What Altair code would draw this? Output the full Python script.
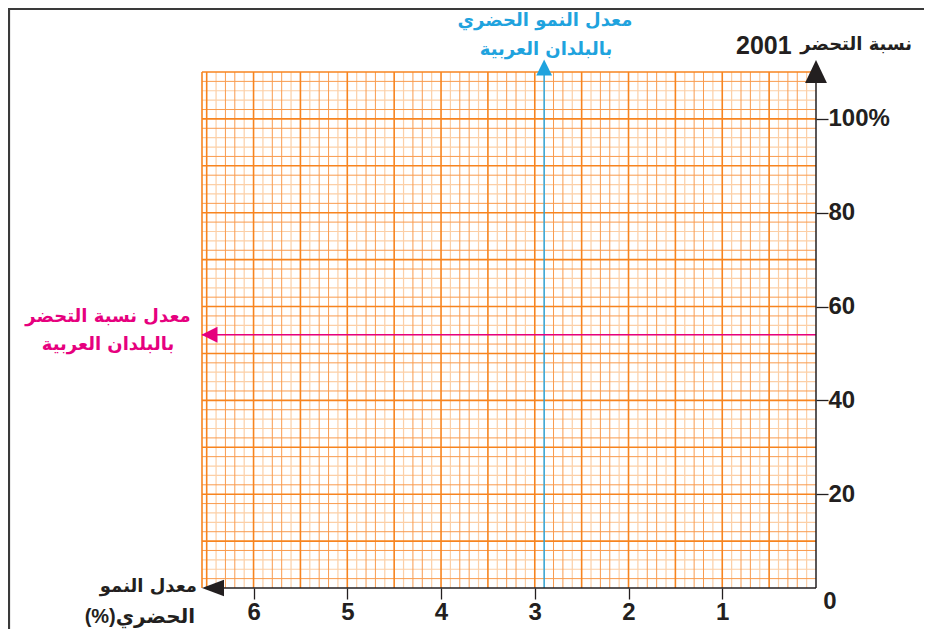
import altair as alt
import pandas as pd

# ---- data -------------------------------------------------------------
X_TICKS = [1, 2, 3, 4, 5, 6]          # urban growth rate (%) - axis reversed
Y_TICKS = [20, 40, 60, 80, 100]       # urbanisation rate 2001 (%)
X_DOMAIN = [0, 6.55]
Y_DOMAIN = [0, 110]
ARAB_GROWTH_AVG = [2.9]               # average urban growth, Arab countries
ARAB_URBAN_AVG = [54]                 # average urbanisation, Arab countries

TXT_Y_TITLE = ["نسبة التحضر", "2001"]
TXT_BLUE = ["معدل النمو الحضري", "بالبلدان العربية"]
TXT_PINK = ["معدل نسبة التحضر", "بالبلدان العربية"]
TXT_X_TITLE = ["معدل النمو", "(%)الحضري"]
TXT_ZERO = ["0"]

# ---- styling ----------------------------------------------------------
W, H = 614, 516
BLACK = "#231F20"
BLUE = "#1FA3DE"
PINK = "#E6007E"
OR_MAJOR = "#F7841F"
OR_MINOR = "#F99B4E"
OR_PALE = "#FCCFA6"
AR_FONT = "DejaVu Sans"
NUM_FONT = "Liberation Sans"

xs = alt.Scale(domain=X_DOMAIN, reverse=True, nice=False, zero=False)
ys = alt.Scale(domain=Y_DOMAIN, nice=False, zero=False)

AX = alt.Axis(values=X_TICKS, orient="bottom", domain=False, grid=False,
              tickSize=11, tickColor=BLACK, tickWidth=1.3, format="d",
              labelFont=NUM_FONT, labelFontSize=24, labelFontWeight="bold",
              labelColor=BLACK, labelPadding=1, title=None)
AY = alt.Axis(values=Y_TICKS, orient="right", domain=False, grid=False,
              tickSize=12, tickColor=BLACK, tickWidth=1.3,
              labelExpr="datum.value == 100 ? '100%' : datum.label",
              labelFont=NUM_FONT, labelFontSize=24, labelFontWeight="bold",
              labelColor=BLACK, labelPadding=0, labelAlign="left",
              labelBaseline="middle", title=None)


def X(field="x"):
    return alt.X(f"{field}:Q", scale=xs, axis=AX, title=None)


def Y(field="y"):
    return alt.Y(f"{field}:Q", scale=ys, axis=AY, title=None)


# graph-paper grid (1 mm / 5 mm)
kx = [k for k in range(1, 66) if k % 5]
vminor = pd.DataFrame({"x": [k / 10 for k in kx], "pale": [k % 5 in (1, 4) for k in kx]})
vmajor = pd.DataFrame({"x": [k / 10 for k in range(5, 66, 5)] + [X_DOMAIN[1]]})
ky = [k for k in range(2, 111, 2) if k % 10]
hminor = pd.DataFrame({"y": ky, "pale": [k % 10 in (4, 6) for k in ky]})
hmajor = pd.DataFrame({"y": list(range(10, 111, 10))})


def vr(df, color, width):
    return alt.Chart(df).mark_rule(color=color, strokeWidth=width).encode(x=X())


def hr(df, color, width):
    return alt.Chart(df).mark_rule(color=color, strokeWidth=width).encode(y=Y())


axes = alt.Chart(pd.DataFrame({"x": [0], "y": [0]})).mark_point(opacity=0).encode(
    x=X(), y=Y())

grid = [
    vr(vminor[vminor.pale], OR_PALE, 1.2),
    hr(hminor[hminor.pale], OR_PALE, 1.2),
    vr(vminor[~vminor.pale], OR_MINOR, 1),
    hr(hminor[~hminor.pale], OR_MINOR, 1),
    vr(vmajor, OR_MAJOR, 1.6),
    hr(hmajor, OR_MAJOR, 1.6),
]

one = pd.DataFrame({"a": [0]})

blue_line = alt.Chart(pd.DataFrame({"x": ARAB_GROWTH_AVG})).mark_rule(
    color=BLUE, strokeWidth=1.4).encode(x=X())
blue_arrow = alt.Chart(pd.DataFrame({"x": ARAB_GROWTH_AVG})).mark_point(
    shape="M-1,1L0,-1L1,1Z", filled=True, size=250, color=BLUE, opacity=1).encode(
    x=X(), y=alt.value(-4.5))

pink_line = alt.Chart(pd.DataFrame({"y": ARAB_URBAN_AVG})).mark_rule(
    color=PINK, strokeWidth=1.6).encode(y=Y())
pink_arrow = alt.Chart(pd.DataFrame({"y": ARAB_URBAN_AVG})).mark_point(
    shape="M1,-1L-1,0L1,1Z", filled=True, size=256, color=PINK, opacity=1).encode(
    x=alt.value(7.5), y=Y())

y_axis_line = alt.Chart(one).mark_rule(color=BLACK, strokeWidth=1.5).encode(
    x=alt.value(W), y=alt.value(H), y2=alt.value(11))
x_axis_line = alt.Chart(one).mark_rule(color=BLACK, strokeWidth=1.5).encode(
    x=alt.value(20), x2=alt.value(W), y=alt.value(H))
y_arrow = alt.Chart(one).mark_point(
    shape="M-0.95,1L0,-1L0.95,1Z", filled=True, size=530, color=BLACK, opacity=1).encode(
    x=alt.value(W), y=alt.value(-0.5))
x_arrow = alt.Chart(one).mark_point(
    shape="M1,-0.75L-1,0L1,0.75Z", filled=True, size=484, color=BLACK, opacity=1).encode(
    x=alt.value(11), y=alt.value(H))

frame_left = alt.Chart(one).mark_rule(color="#3a3a3a", strokeWidth=2.2).encode(
    x=alt.value(-193), y=alt.value(-64), y2=alt.value(H + 41))
frame_top = alt.Chart(one).mark_rule(color="#3a3a3a", strokeWidth=2.2).encode(
    x=alt.value(-194), x2=alt.value(W + 108), y=alt.value(-63))


def txt(s, x, y, color, size, font, align="center"):
    return alt.Chart(pd.DataFrame({"t": [s]})).mark_text(
        color=color, fontSize=size, font=font, fontWeight="bold", align=align,
        baseline="middle").encode(text="t:N", x=alt.value(x), y=alt.value(y))


texts = [
    txt(TXT_Y_TITLE[0], 710, -27, BLACK, 18, AR_FONT, "right"),
    txt(TXT_Y_TITLE[1], 534, -26, BLACK, 25, NUM_FONT, "left"),
    txt(TXT_BLUE[0], 343, -51, BLUE, 18, AR_FONT),
    txt(TXT_BLUE[1], 344, -22, BLUE, 18, AR_FONT),
    txt(TXT_PINK[0], -94, 245, PINK, 18, AR_FONT),
    txt(TXT_PINK[1], -94, 273, PINK, 18, AR_FONT),
    txt(TXT_X_TITLE[0], -5, 515, BLACK, 18, AR_FONT, "right"),
    txt(TXT_X_TITLE[1], -7, 545, BLACK, 20, NUM_FONT + ", " + AR_FONT, "right"),
    txt(TXT_ZERO[0], 628, 530, BLACK, 24, NUM_FONT),
]

chart = alt.layer(
    axes, *grid, blue_line, pink_line, y_axis_line, x_axis_line,
    blue_arrow, pink_arrow, y_arrow, x_arrow, frame_left, frame_top, *texts
).properties(
    width=W, height=H,
    autosize=alt.AutoSizeParams(type="none"),
    padding={"left": 194, "top": 64, "right": 108, "bottom": 41},
    background="white",
).configure_view(stroke=None)

chart.save("out.html", embed_options={"renderer": "svg", "actions": False})
